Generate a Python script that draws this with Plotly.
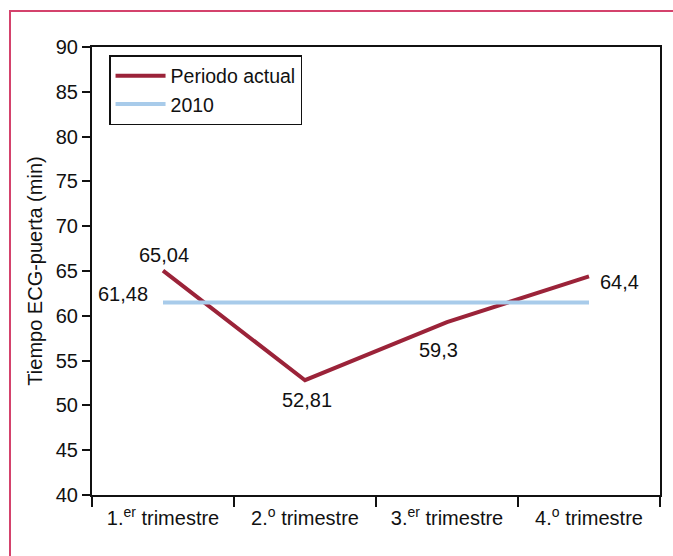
import plotly.graph_objects as go

categories = ["1.<sup>er</sup> trimestre", "2.<sup>o</sup> trimestre", "3.<sup>er</sup> trimestre", "4.<sup>o</sup> trimestre"]
actual = [65.04, 52.81, 59.3, 64.4]
ref2010 = [61.48, 61.48, 61.48, 61.48]
actual_labels = ["65,04", "52,81", "59,3", "64,4"]
ref_label = "61,48"
y_ticks = [40, 45, 50, 55, 60, 65, 70, 75, 80, 85, 90]

FONT = "Liberation Sans, Arial, sans-serif"

fig = go.Figure()
fig.add_trace(go.Scatter(x=categories, y=actual, mode="lines", name="Periodo actual",
                         line=dict(color="#9b2339", width=4)))
fig.add_trace(go.Scatter(x=categories, y=ref2010, mode="lines", name="2010",
                         line=dict(color="#a8cbea", width=4)))

# label offsets (style only)
offs = [(1, -16), (2, 20), (-9, 28), (30, 6)]
anns = []
for c, v, t, (dx, dy) in zip(categories, actual, actual_labels, offs):
    anns.append(dict(x=c, y=v, text=t, showarrow=False, xshift=dx, yshift=-dy,
                     font=dict(size=20, color="#111", family=FONT)))
anns.append(dict(x=categories[0], y=ref2010[0], text=ref_label, showarrow=False,
                 xanchor="right", xshift=-13, yshift=9,
                 font=dict(size=20, color="#111", family=FONT)))

fig.update_layout(
    width=673, height=556,
    margin=dict(l=92, r=13, t=47, b=61),
    paper_bgcolor="white", plot_bgcolor="white",
    font=dict(family=FONT, size=20, color="#111"),
    showlegend=True,
    legend=dict(x=0.03, y=0.982, xanchor="left", yanchor="top",
                bordercolor="#111", borderwidth=1.5, bgcolor="white",
                font=dict(size=19.5, family=FONT), tracegroupgap=0,
                itemwidth=50),
    annotations=anns,
    shapes=[dict(type="rect", xref="paper", yref="paper",
                 x0=(10 - 92) / 568, x1=(700 - 92) / 568,
                 y0=(495 - 600) / 448, y1=(495 - 11) / 448,
                 line=dict(color="#d4426c", width=2), layer="below")],
)
fig.update_xaxes(type="category", range=[-0.5, 3.5], tickson="boundaries", ticks="outside", ticklen=10,
                 tickwidth=1.5, tickcolor="#111", showline=True, linecolor="#111",
                 linewidth=2, mirror=True, showgrid=False, zeroline=False,
                 ticklabelstandoff=4,
                 tickfont=dict(size=20, family=FONT))
fig.update_yaxes(range=[40, 90], tickvals=y_ticks, ticks="outside", ticklen=8,
                 tickwidth=1.5, tickcolor="#111", showline=True, linecolor="#111",
                 linewidth=2, mirror=True, showgrid=False, zeroline=False,
                 tickfont=dict(size=20, family=FONT),
                 title=dict(text="Tiempo ECG-puerta (min)", font=dict(size=20, family=FONT), standoff=8))

fig.write_html("out.html", config={"displayModeBar": False},
               post_script="document.body.style.margin='0';document.body.style.padding='0';")
